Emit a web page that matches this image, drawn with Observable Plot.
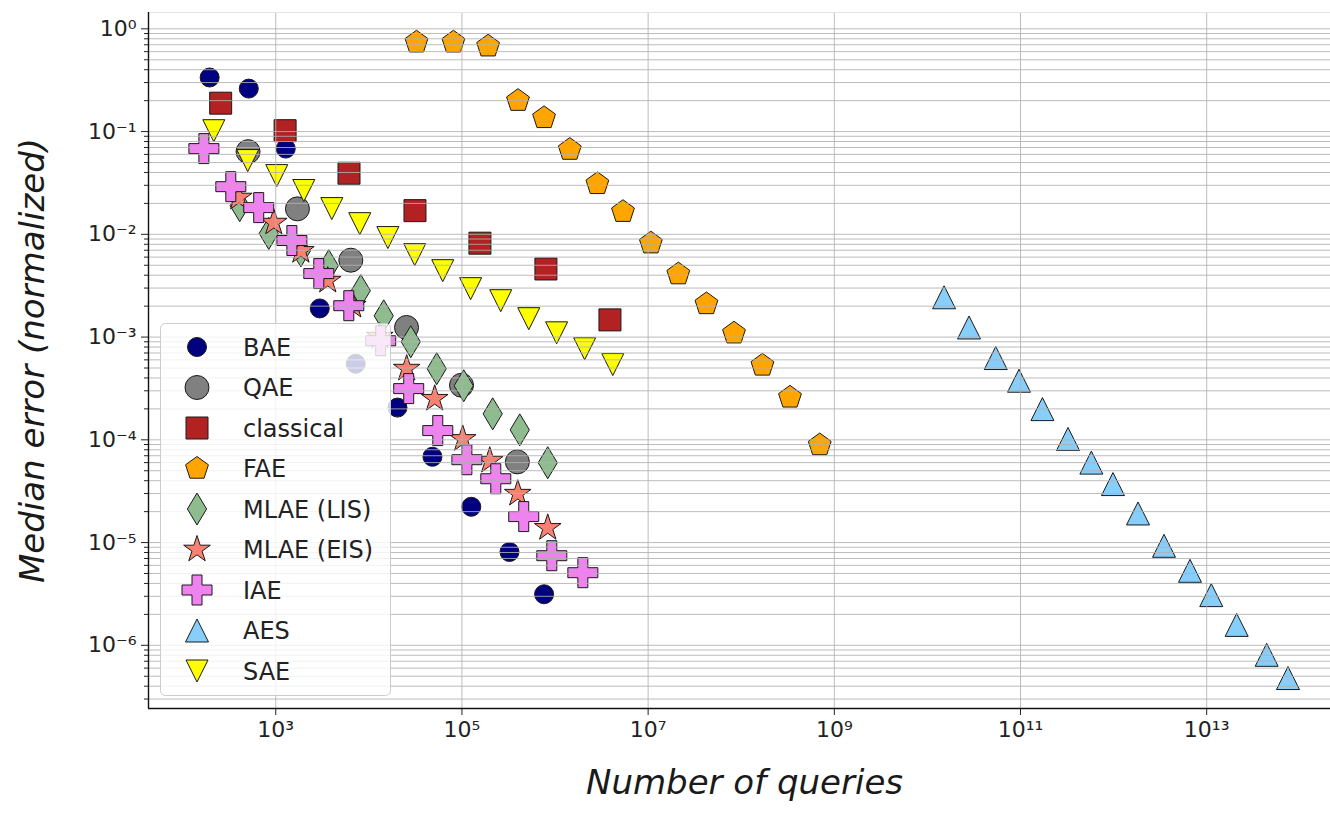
<!DOCTYPE html>
<html><head><meta charset="utf-8">
<script src="https://cdn.jsdelivr.net/npm/d3@7"></script>
<script src="https://cdn.jsdelivr.net/npm/@observablehq/plot@0.6"></script>
<style>
body{margin:0;background:#fff;}
#wrap{position:relative;width:1330px;height:813px;overflow:hidden;}
</style></head><body><div id="wrap"></div>
<script>
// ---------- data ----------
const seriesNames = ["BAE","QAE","classical","FAE","MLAE (LIS)","MLAE (EIS)","IAE","AES","SAE"];

const BAE_x = [195, 513, 1280, 2970, 7230, 20300, 48200, 126000, 324000, 763000];
const BAE_y = [0.336, 0.262, 0.0683, 1.9e-3, 5.5e-4, 2.06e-4, 6.84e-5, 2.23e-5, 8.1e-6, 3.14e-6];

const QAE_x = [504, 1710, 6400, 25400, 98900, 394000];
const QAE_y = [0.0638, 0.0177, 5.6e-3, 1.24e-3, 3.4e-4, 6.1e-5];

const classical_x = [256, 1260, 6120, 31300, 156000, 798000, 3.89e6];
const classical_y = [0.189, 0.102, 0.0393, 0.017, 8.2e-3, 4.6e-3, 1.47e-3];

const FAE_x = [32500, 81000, 191000, 400000, 762000, 1.44e6, 2.85e6, 5.37e6, 1.07e7, 2.11e7, 4.23e7, 8.36e7, 1.69e8, 3.34e8, 6.97e8];
const FAE_y = [0.74, 0.74, 0.677, 0.2, 0.136, 0.0668, 0.031, 0.0166, 8.2e-3, 4.1e-3, 2.1e-3, 1.09e-3, 5.3e-4, 2.59e-4, 8.9e-5];

const LIS_x = [410, 841, 1860, 3710, 8190, 14450, 28200, 53600, 104500, 214000, 418000, 835000];
const LIS_y = [0.019, 0.0102, 6.9e-3, 4.95e-3, 2.83e-3, 1.61e-3, 9.0e-4, 4.92e-4, 3.36e-4, 1.79e-4, 1.25e-4, 5.98e-5];

const EIS_x = [401, 952, 1860, 3620, 6720, 13100, 25500, 51000, 102000, 199000, 398000, 835000];
const EIS_y = [0.0228, 0.013, 6.9e-3, 3.54e-3, 2.02e-3, 1.01e-3, 4.93e-4, 2.51e-4, 1.02e-4, 6.26e-5, 2.99e-5, 1.39e-5];

const IAE_x = [169, 329, 656, 1490, 2900, 6090, 13400, 26800, 55000, 113000, 231000, 461000, 923000, 1.99e6];
const IAE_y = [0.0683, 0.0291, 0.0182, 8.7e-3, 4.15e-3, 2.02e-3, 9.2e-4, 3.15e-4, 1.23e-4, 6.4e-5, 4.18e-5, 1.79e-5, 7.45e-6, 5.09e-6];

const AES_x = [1.51e10, 2.8e10, 5.42e10, 9.64e10, 1.72e11, 3.24e11, 5.77e11, 9.85e11, 1.83e12, 3.48e12, 6.62e12, 1.12e13, 2.1e13, 4.41e13, 7.47e13];
const AES_y = [2.44e-3, 1.24e-3, 6.25e-4, 3.76e-4, 1.99e-4, 1.02e-4, 6.0e-5, 3.71e-5, 1.92e-5, 9.3e-6, 5.31e-6, 3.08e-6, 1.58e-6, 8.08e-7, 4.8e-7];

const SAE_x = [216, 500, 1025, 2000, 4000, 7990, 16000, 31100, 62200, 124000, 261000, 522000, 1.04e6, 2.08e6, 4.17e6];
const SAE_y = [0.102, 0.0522, 0.0373, 0.0267, 0.0178, 0.0127, 9.3e-3, 6.35e-3, 4.43e-3, 2.96e-3, 2.26e-3, 1.51e-3, 1.1e-3, 7.7e-4, 5.4e-4];

const xTicks = [1e3, 1e5, 1e7, 1e9, 1e11, 1e13];
const yTicks = [1e0, 1e-1, 1e-2, 1e-3, 1e-4, 1e-5, 1e-6];
const minorMult = [2, 3, 4, 5, 6, 7, 8, 9];

// ---------- symbols ----------
function mk(fn){ return {draw(ctx, size){ const r = Math.sqrt(size / Math.PI); fn(ctx, r); }}; }
function poly(c, pts){ c.moveTo(pts[0][0], pts[0][1]); for (let i = 1; i < pts.length; i++) c.lineTo(pts[i][0], pts[i][1]); c.closePath(); }
const symCircle = mk((c, r) => { c.moveTo(r, 0); c.arc(0, 0, r, 0, 2 * Math.PI); c.closePath(); });
const symSquare = mk((c, r) => poly(c, [[-r,-r],[r,-r],[r,r],[-r,r]]));
const symPentagon = mk((c, r) => poly(c, d3.range(5).map(i => { const a = -Math.PI/2 + i*2*Math.PI/5; return [r*Math.cos(a), r*Math.sin(a)]; })));
const symThinDiamond = mk((c, r) => poly(c, [[0,-r],[0.6*r,0],[0,r],[-0.6*r,0]]));
const symStar = mk((c, r) => poly(c, d3.range(10).map(i => { const a = -Math.PI/2 + i*Math.PI/5; const rr = i % 2 ? r*0.382 : r; return [rr*Math.cos(a), rr*Math.sin(a)]; })));
const symPlus = mk((c, r) => { const t = r/3; poly(c, [[-t,-r],[t,-r],[t,-t],[r,-t],[r,t],[t,t],[t,r],[-t,r],[-t,t],[-r,t],[-r,-t],[-t,-t]]); });
const symTriUp = mk((c, r) => poly(c, [[0,-r],[r,r],[-r,r]]));
const symTriDown = mk((c, r) => poly(c, [[0,r],[r,-r],[-r,-r]]));

const series = [
  {name: seriesNames[0], x: BAE_x, y: BAE_y, color: "#000080", symbol: symCircle, r: 9.5},
  {name: seriesNames[1], x: QAE_x, y: QAE_y, color: "#808080", symbol: symCircle, r: 12},
  {name: seriesNames[2], x: classical_x, y: classical_y, color: "#b22222", symbol: symSquare, r: 11},
  {name: seriesNames[3], x: FAE_x, y: FAE_y, color: "#ffa500", symbol: symPentagon, r: 12},
  {name: seriesNames[4], x: LIS_x, y: LIS_y, color: "#8fbc8f", symbol: symThinDiamond, r: 16},
  {name: seriesNames[5], x: EIS_x, y: EIS_y, color: "#fa8072", symbol: symStar, r: 14},
  {name: seriesNames[6], x: IAE_x, y: IAE_y, color: "#ee82ee", symbol: symPlus, r: 15},
  {name: seriesNames[7], x: AES_x, y: AES_y, color: "#87cefa", symbol: symTriUp, r: 11.5},
  {name: seriesNames[8], x: SAE_x, y: SAE_y, color: "#ffff00", symbol: symTriDown, r: 11}
];
const rows = series.flatMap(s => s.x.map((x, i) => ({series: s.name, x, y: s.y[i]})));

const xDomain = [10 ** 1.633, 10 ** 14.33];
const yDomain = [10 ** -6.615, 10 ** 0.159];
const yAll = [];
for (let e = -7; e <= 0; e++) for (const k of [1, ...minorMult]) { const v = k * 10 ** e; if (v >= yDomain[0] && v <= yDomain[1]) yAll.push(v); }
const yMinor = yAll.filter(v => !yTicks.some(t => Math.abs(t - v) / t < 1e-9));

const supDigits = "⁰¹²³⁴⁵⁶⁷⁸⁹";
const fmt = d => "10" + String(Math.round(Math.log10(d))).replace(/-/g, "⁻").replace(/\d/g, c => supDigits[+c]);

const chart = Plot.plot({
  width: 1330, height: 813,
  marginLeft: 148, marginRight: 0, marginTop: 12, marginBottom: 105,
  x: {type: "log", domain: xDomain, label: null},
  y: {type: "log", domain: yDomain, label: null},
  style: {fontFamily: "DejaVu Sans", color: "#222", background: "white", overflow: "visible"},
  marks: [
    ...series.map(s => Plot.dot(rows.filter(d => d.series === s.name), {
      x: "x", y: "y", symbol: s.symbol, r: s.r, fill: s.color, stroke: "#1a1a1a", strokeWidth: 1
    })),
    Plot.gridY(yAll, {stroke: "#b0b0b0", strokeOpacity: 0.85, strokeWidth: 1}),
    Plot.gridX(xTicks, {stroke: "#b0b0b0", strokeOpacity: 0.85, strokeWidth: 1}),
    Plot.ruleY([yDomain[1]], {stroke: "#e4e4e4"}),
    Plot.axisY(yTicks, {tickFormat: fmt, tickSize: 7, tickPadding: 5, fontSize: 22, stroke: "#222", label: null}),
    Plot.axisY(yMinor, {tickFormat: () => "", tickSize: 4, stroke: "#222", label: null}),
    Plot.axisX(xTicks, {tickFormat: fmt, tickSize: 7, tickPadding: 6, fontSize: 22, stroke: "#222", label: null}),
    Plot.ruleX([xDomain[0]], {stroke: "#111", strokeWidth: 1.4}),
    Plot.ruleY([yDomain[0]], {stroke: "#111", strokeWidth: 1.4}),
    Plot.text(["Number of queries"], {frameAnchor: "bottom", dy: 85, dx: 5, fontSize: 34, fontStyle: "italic", fill: "#1a1a1a"}),
    Plot.text(["Median error (normalized)"], {frameAnchor: "left", textAnchor: "middle", dx: -115, rotate: -90, fontSize: 34, fontStyle: "italic", fill: "#1a1a1a"})
  ]
});
document.getElementById("wrap").appendChild(chart);

// ---------- legend (overlay inside plot area) ----------
const lg = d3.select("#wrap").append("svg")
  .attr("width", 1330).attr("height", 813)
  .style("position", "absolute").style("left", "0px").style("top", "0px")
  .style("font-family", "DejaVu Sans");
lg.append("rect").attr("x", 160.5).attr("y", 323.5).attr("width", 230).attr("height", 372)
  .attr("rx", 5).attr("fill", "white").attr("fill-opacity", 0.8).attr("stroke", "#cccccc");
series.forEach((s, i) => {
  const cy = 347 + i * 40.5;
  lg.append("path").attr("d", d3.symbol(s.symbol, Math.PI * s.r * s.r)())
    .attr("transform", `translate(197,${cy})`)
    .attr("fill", s.color).attr("stroke", "#1a1a1a").attr("stroke-width", 1);
  lg.append("text").attr("x", 243).attr("y", cy).attr("dy", "0.36em")
    .attr("font-size", 24).attr("fill", "#222").text(s.name);
});
</script>
</body></html>
